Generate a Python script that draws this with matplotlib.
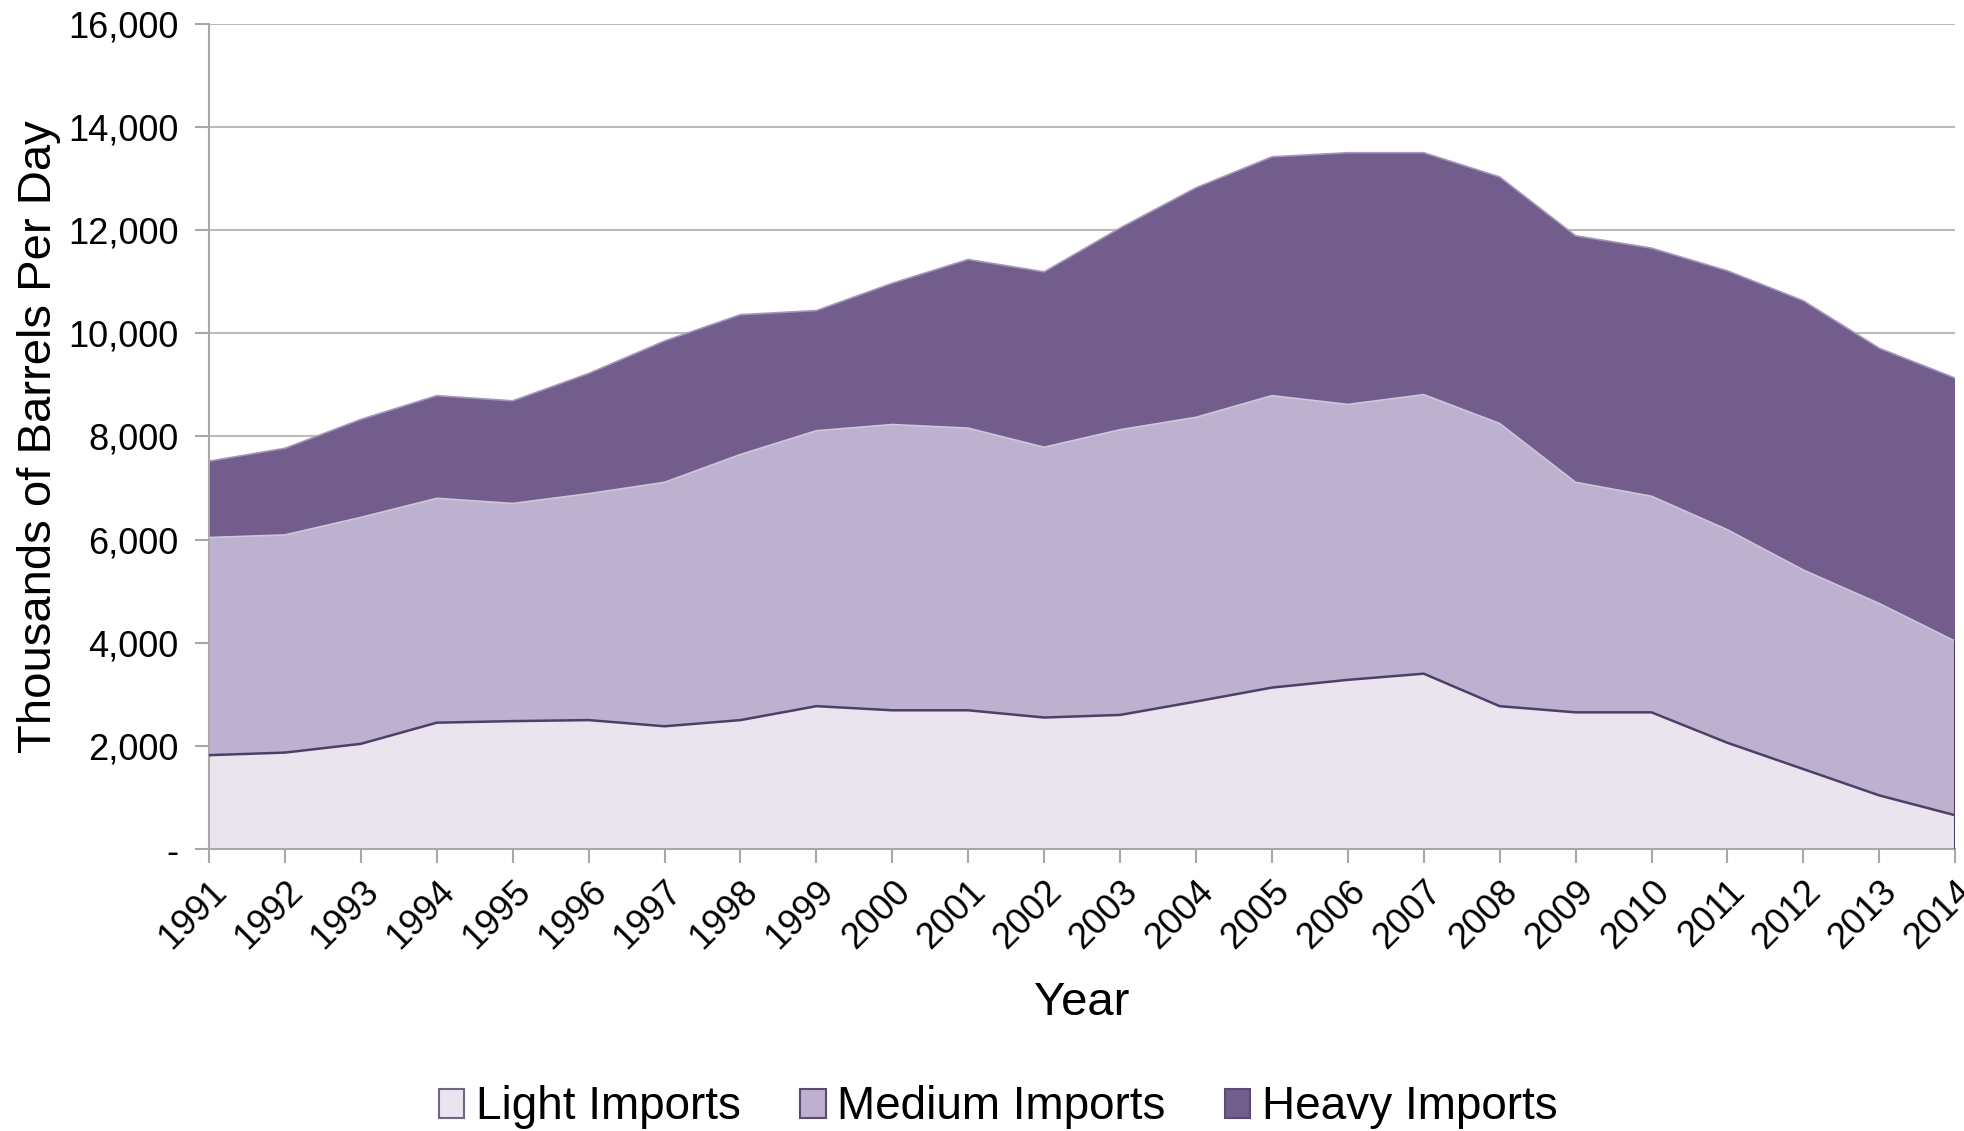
import numpy as np
import matplotlib
matplotlib.use("Agg")
from matplotlib import pyplot as plt
from matplotlib.patches import Patch
from matplotlib.ticker import FuncFormatter

plt.rcParams['font.family'] = ['Liberation Sans', 'DejaVu Sans']

years = list(range(1991, 2015))
light = [1820, 1870, 2040, 2450, 2480, 2500, 2380, 2500, 2770, 2690, 2690, 2550,
         2600, 2860, 3130, 3280, 3400, 2770, 2650, 2650, 2060, 1550, 1040, 655]
light_medium = [6040, 6090, 6430, 6800, 6700, 6890, 7110, 7650, 8110, 8230, 8160, 7790,
                8130, 8370, 8790, 8620, 8810, 8250, 7110, 6840, 6190, 5410, 4760, 4030]
total = [7520, 7770, 8330, 8790, 8690, 9220, 9850, 10360, 10440, 10970, 11430, 11190,
         12040, 12820, 13420, 13500, 13500, 13030, 11890, 11650, 11210, 10630, 9710, 9130]
medium = [b - a for a, b in zip(light, light_medium)]
heavy = [c - b for b, c in zip(light_medium, total)]

names = ["Light Imports", "Medium Imports", "Heavy Imports"]
colors = ["#EAE4EF", "#BDB1CF", "#735D8C"]
edges = ["#4E3F66", "#CFC5DD", "#A796BC"]

fig = plt.figure(figsize=(19.65, 11.31), dpi=100)
ax = fig.add_axes([0.1064, 0.2493, 0.8886, 0.7297])

x = np.array(years)
ax.stackplot(x, light, medium, heavy, colors=colors, zorder=2)
ax.plot(x, light, color=edges[0], lw=1.8, zorder=3)
ax.plot(x, light_medium, color=edges[1], lw=1.2, zorder=3)
ax.plot(x, total, color=edges[2], lw=1.2, zorder=3)
ax.plot([x[-1], x[-1]], [0, light_medium[-1]], color=edges[0], lw=1.5, zorder=3)

ax.set_xlim(1991, 2014)
ax.set_ylim(0, 16000)
ax.set_yticks(range(0, 16001, 2000))
ax.yaxis.set_major_formatter(FuncFormatter(lambda v, p: "-" if v == 0 else f"{int(v):,}"))
ax.set_xticks(years)
ax.set_xticklabels([str(y) for y in years], rotation=45, ha='right',
                   rotation_mode='anchor', fontsize=26)
ax.tick_params(axis='y', labelsize=26, length=10, color='#A8A8A8', width=1.5, pad=12)
ax.tick_params(axis='x', length=10, color='#A8A8A8', width=1.5, pad=8)
ax.grid(axis='y', color='#BBBBBB', lw=1.5, zorder=1)
ax.set_axisbelow(True)
for s in ['top', 'right']:
    ax.spines[s].set_visible(False)
ax.spines['left'].set_color('#A8A8A8')
ax.spines['bottom'].set_color('#A8A8A8')
ax.spines['left'].set_linewidth(1.5)
ax.spines['bottom'].set_linewidth(1.5)

ax.set_ylabel("Thousands of Barrels Per Day", fontsize=34, labelpad=5)
ax.set_xlabel("Year", fontsize=34, labelpad=18)

handles = [Patch(facecolor=c, edgecolor=e, lw=1.5, label=n)
           for c, e, n in zip(colors, ["#6F6780", "#5A4C70", "#5A4C70"], names)]
fig.legend(handles=handles, loc='lower center', bbox_to_anchor=(0.508, -0.035), ncol=3,
           frameon=False, fontsize=33, handlelength=0.55, handleheight=0.6,
           handletextpad=0.25, columnspacing=1.3)

fig.savefig("out.png", dpi=100)
